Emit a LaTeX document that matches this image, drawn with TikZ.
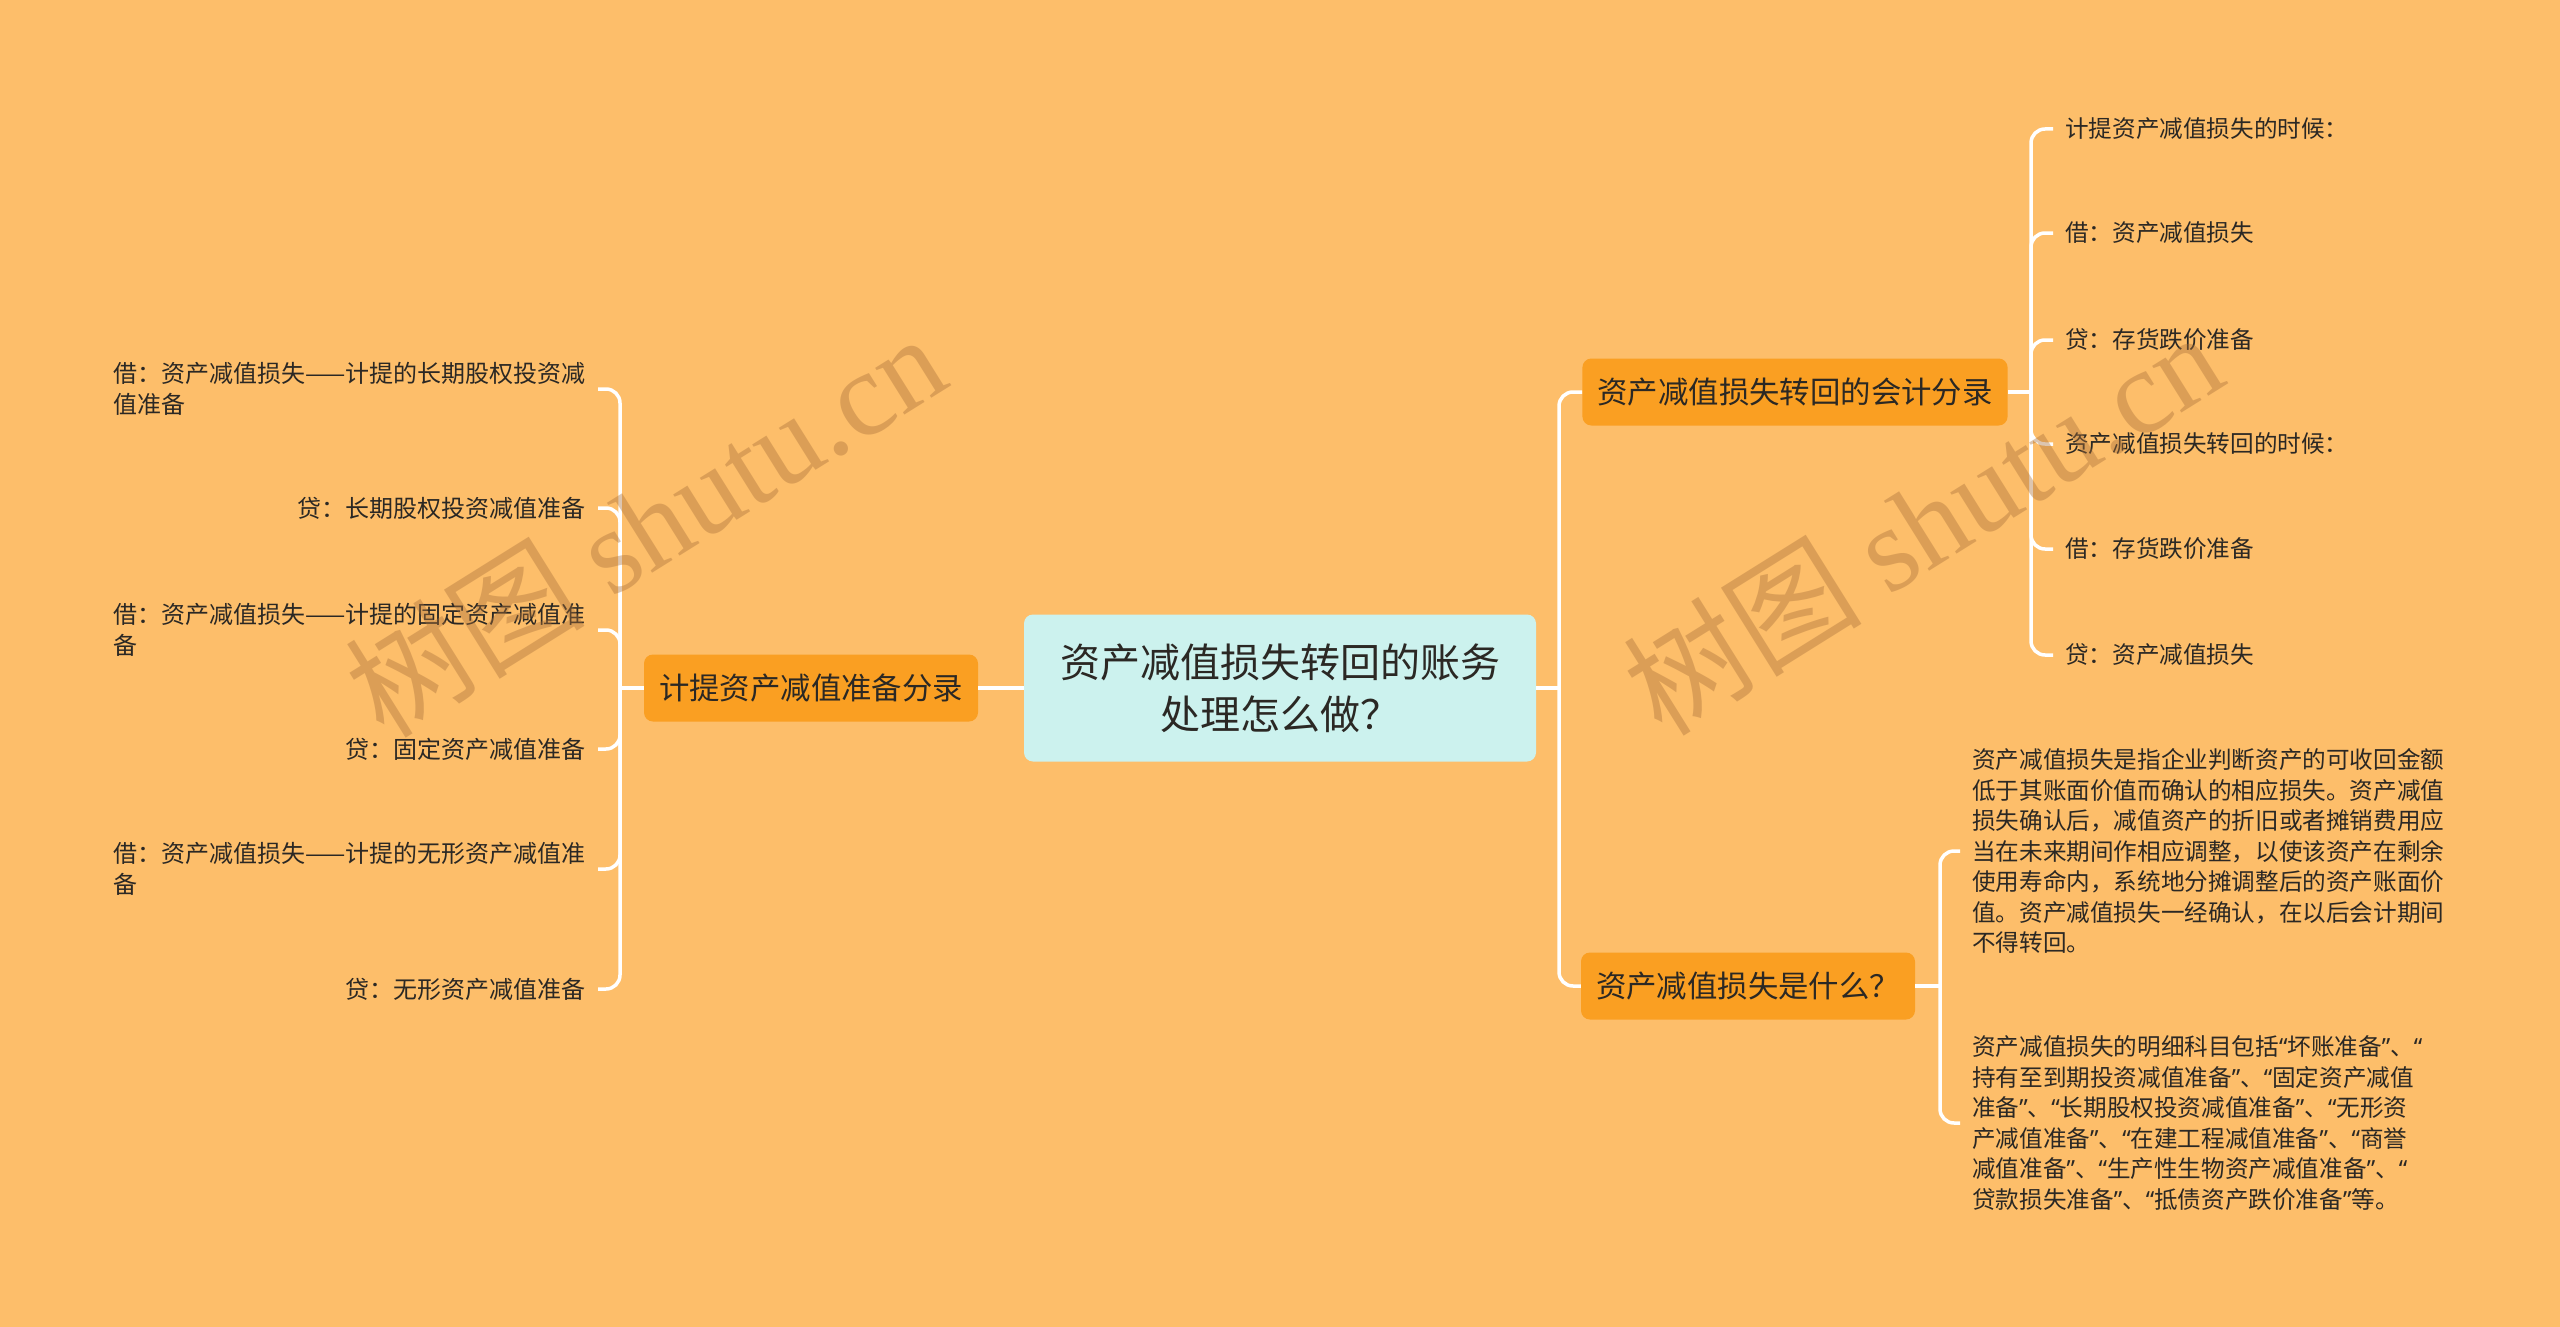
\documentclass[tikz,border=0pt]{standalone}
\usepackage{fontspec}
\setmainfont{Noto Sans CJK SC}
\newfontfamily\wmlatin{Liberation Serif}
\newfontfamily\quotefont{Noto Sans}
\newcommand{\oq}{{\quotefont “}}
\newcommand{\cq}{{\quotefont ”}}

\definecolor{bgorange}{HTML}{FDBE6A}
\definecolor{branchorange}{HTML}{FA9F22}
\definecolor{rootcyan}{HTML}{CCF2EE}
\definecolor{inktext}{HTML}{2B2824}
\definecolor{wmbrown}{HTML}{A8703A}

\begin{document}
\begin{tikzpicture}[x=1pt,y=-1pt,
    root/.style={fill=rootcyan,rounded corners=9pt,text=inktext,align=center,
        font=\fontsize{40}{52}\selectfont,minimum width=512pt,minimum height=147pt,inner sep=0pt},
    branch/.style={fill=branchorange,rounded corners=9pt,text=inktext,
        font=\fontsize{30.4}{36}\selectfont,minimum height=67pt,inner xsep=15pt,inner ysep=0pt},
    leafl/.style={anchor=east,align=left,text=inktext,
        font=\fontsize{24}{30.5}\selectfont,inner xsep=12pt,inner ysep=2pt},
    leafr/.style={anchor=west,align=left,text=inktext,
        font=\fontsize{23.6}{30.5}\selectfont,inner xsep=12pt,inner ysep=2pt},
    link/.style={draw=white,line width=3.5pt,rounded corners=14pt},
    watermark/.style={text=wmbrown,opacity=0.4,rotate=32,font=\fontsize{120}{128}\selectfont}
]

% fond
\fill[bgorange] (0,0) rectangle (2560,1327);
\useasboundingbox (0,0) rectangle (2560,1327);

% racine et branches
\node[root] (root) at (1280,688) {资产减值损失转回的账务\\处理怎么做？};
\node[branch] (jt) at (811,688) {计提资产减值准备分录};
\node[branch] (hk) at (1795,392) {资产减值损失转回的会计分录};
\node[branch] (sm) at (1748,986) {资产减值损失是什么？};

% feuilles gauche
\node[leafl] (jt1) at (598,389) {借：资产减值损失——计提的长期股权投资减\\值准备};
\node[leafl] (jt2) at (598,508) {贷：长期股权投资减值准备};
\node[leafl] (jt3) at (598,630) {借：资产减值损失——计提的固定资产减值准\\备};
\node[leafl] (jt4) at (598,749) {贷：固定资产减值准备};
\node[leafl] (jt5) at (598,869) {借：资产减值损失——计提的无形资产减值准\\备};
\node[leafl] (jt6) at (598,989) {贷：无形资产减值准备};

% feuilles droite, haut
\node[leafr] (hk1) at (2053,129) {计提资产减值损失的时候：};
\node[leafr] (hk2) at (2053,233) {借：资产减值损失};
\node[leafr] (hk3) at (2053,340) {贷：存货跌价准备};
\node[leafr] (hk4) at (2053,444) {资产减值损失转回的时候：};
\node[leafr] (hk5) at (2053,549) {借：存货跌价准备};
\node[leafr] (hk6) at (2053,655) {贷：资产减值损失};

% feuilles droite, bas
\node[leafr] (sm1) at (1960,851) {资产减值损失是指企业判断资产的可收回金额\\低于其账面价值而确认的相应损失。资产减值\\损失确认后，减值资产的折旧或者摊销费用应\\当在未来期间作相应调整，以使该资产在剩余\\使用寿命内，系统地分摊调整后的资产账面价\\值。资产减值损失一经确认，在以后会计期间\\不得转回。};
\node[leafr] (sm2) at (1960,1123) {资产减值损失的明细科目包括\oq 坏账准备\cq 、\oq\\持有至到期投资减值准备\cq 、\oq 固定资产减值\\准备\cq 、\oq 长期股权投资减值准备\cq 、\oq 无形资\\产减值准备\cq 、\oq 在建工程减值准备\cq 、\oq 商誉\\减值准备\cq 、\oq 生产性生物资产减值准备\cq 、\oq\\贷款损失准备\cq 、\oq 抵债资产跌价准备\cq 等。};

% points de jonction
\coordinate (jr) at (1559,688);
\coordinate (jl) at (620,688);
\coordinate (jhk) at (2031,392);
\coordinate (jsm) at (1940,986);

% liens racine
\draw[link] (root.west) -- (jt.east);
\draw[link] (root.east) -- (jr);
\draw[link] (jr) |- (hk.west);
\draw[link] (jr) |- (sm.west);

% liens gauche
\draw[link] (jt.west) -- (jl);
\foreach \n in {jt1,jt2,jt3,jt4,jt5,jt6}
    \draw[link] (jl) |- (\n.east);

% liens droite
\draw[link] (hk.east) -- (jhk);
\foreach \n in {hk1,hk2,hk3,hk4,hk5,hk6}
    \draw[link] (jhk) |- (\n.west);
\draw[link] (sm.east) -- (jsm);
\foreach \n in {sm1,sm2}
    \draw[link] (jsm) |- (\n.west);

% filigrane
\node[watermark] (wm1) at (645,524) {树图 {\wmlatin shutu.cn}};
\node[watermark] (wm2) at (1922,522) {树图 {\wmlatin shutu.cn}};

\end{tikzpicture}
\end{document}
